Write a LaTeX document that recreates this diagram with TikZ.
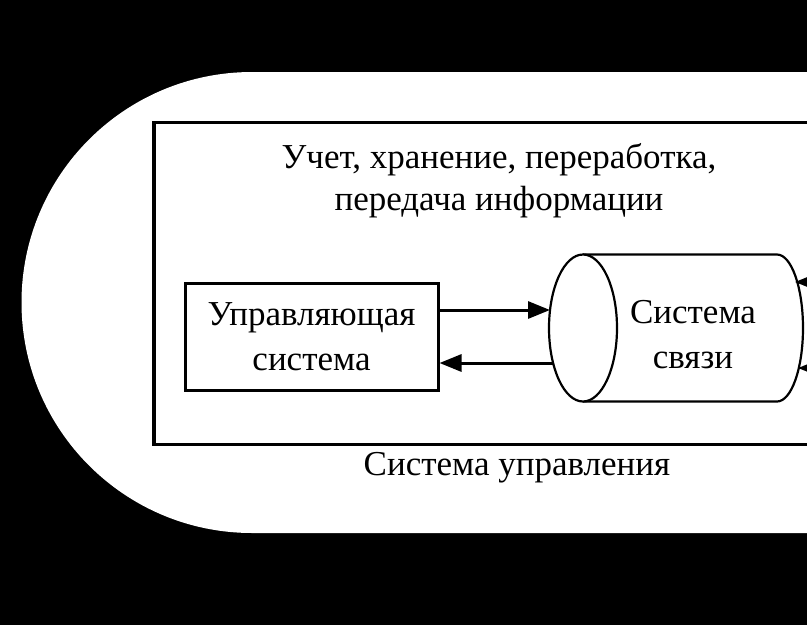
\documentclass[tikz,border=0pt]{standalone}
\usepackage{fontspec}
\setmainfont{Liberation Serif}
\usetikzlibrary{arrows.meta}
\tikzset{
  txt/.style={inner sep=0pt, align=center, font=\fontsize{35}{45}\selectfont},
  blk/.style={draw=black, line width=3pt},
  arr/.style={line width=3pt, -{Triangle[length=22pt,width=17pt]}},
  cyl/.style={draw=black, line width=2.2pt}
}
\begin{document}
\begin{tikzpicture}[x=1pt,y=-1pt]
\useasboundingbox (0,0) rectangle (807,625);
\clip (0,0) rectangle (807,625);
\fill[black] (0,0) rectangle (807,625);
\fill[white] (830,72) -- (252,72) arc[start angle=270, end angle=90, radius=230.5] -- (830,533) -- cycle;
% outer system rectangle
\draw[line width=3.5pt] (154,122.5) rectangle (840,444.5);
\node[txt, font=\fontsize{35}{42}\selectfont, anchor=base] (title) at (499,210) {Учет, хранение, переработка,\\передача информации};
% control system
\node[blk, txt, minimum width=253pt, minimum height=107pt] (ctrl) at (311.5,336.5) {Управляющая\\система};
% cylinder
\draw[cyl] (583,254.5) -- (777,254.5) arc[start angle=270, end angle=450, x radius=26, y radius=73.5] -- (583,401.5);
\draw[cyl, fill=white] (583,328) ellipse[x radius=34, y radius=73.5];
\node[txt, anchor=base] (comm) at (693,368) {Система\\связи};
\coordinate (e1) at (550,310);
\coordinate (e2) at (553,363);
\coordinate (r1s) at (840,282);
\coordinate (r1) at (795,282);
\coordinate (r2s) at (840,368);
\coordinate (r2) at (798,368);
\draw[arr] ([yshift=26.5pt]ctrl.east) -- (e1);
\draw[arr] (e2) -- ([yshift=-26.5pt]ctrl.east);
\draw[arr] (r1s) -- (r1);
\draw[arr] (r2s) -- (r2);
\node[txt, anchor=base] (sys) at (517,475) {Система управления};
\end{tikzpicture}
\end{document}
